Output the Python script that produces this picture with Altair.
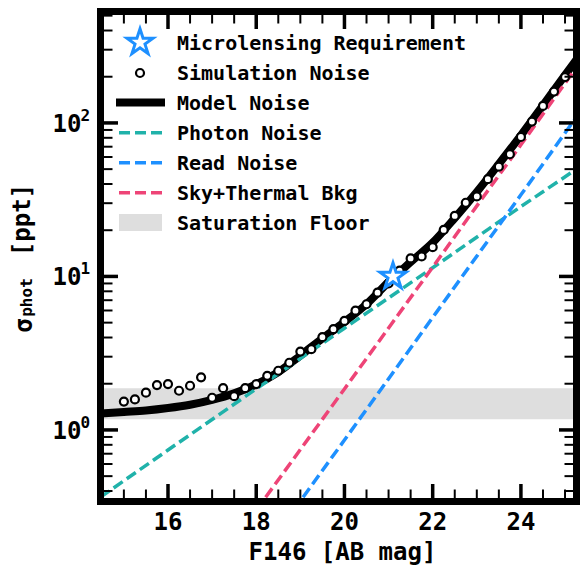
import altair as alt
import pandas as pd

# ---------------- data ----------------
sim_mag = [15.0, 15.25, 15.5, 15.75, 16.0, 16.25, 16.5, 16.75, 17.0, 17.25, 17.5,
           17.75, 18.0, 18.25, 18.5, 18.75, 19.0, 19.25, 19.5, 19.75, 20.0, 20.25,
           20.5, 20.75, 21.0, 21.25, 21.5, 21.75, 22.0, 22.25, 22.5, 22.75, 23.0,
           23.25, 23.5, 23.75, 24.0, 24.25, 24.5, 24.75, 25.0]
sim_sigma = [1.53, 1.58, 1.75, 1.96, 1.99, 1.80, 1.94, 2.20, 1.62, 1.87, 1.66,
             1.87, 1.99, 2.25, 2.43, 2.74, 3.24, 3.36, 4.02, 4.53, 5.13, 5.98,
             6.59, 7.84, 9.0, 10.9, 13.1, 13.5, 15.5, 20.1, 24.8, 30.2, 33.2,
             43.0, 51.9, 62.5, 81.0, 102.0, 129.0, 160.0, 199.0]

model_mag = [14.47, 15.0, 15.5, 16.0, 16.5, 17.0, 17.5, 18.0, 18.5, 19.0, 19.5,
             20.0, 20.5, 21.0, 21.5, 22.0, 22.5, 23.0, 23.5, 24.0, 24.5, 25.0, 25.43]
model_sigma = [1.28, 1.31, 1.34, 1.39, 1.46, 1.57, 1.73, 1.98, 2.38, 3.05, 3.95,
               5.05, 6.6, 9.2, 12.4, 16.6, 24.0, 35.5, 54.0, 83.0, 130.0, 205.0, 300.0]

photon_mag = [14.47, 16.0, 18.0, 20.0, 22.0, 24.0, 25.43]
photon_sigma = [0.365, 0.74, 1.85, 4.6, 11.4, 28.5, 54.0]

read_mag = [18.85, 20.0, 22.0, 24.0, 25.43]
read_sigma = [0.30, 0.86, 5.4, 34.0, 128.0]

sky_mag = [18.0, 20.0, 22.0, 24.0, 25.43]
sky_sigma = [0.30, 1.85, 11.5, 72.0, 270.0]

star_mag = [21.1]
star_sigma = [10.0]

floor_low = [1.175]
floor_high = [1.87]

x_major = [16, 18, 20, 22, 24]
x_minor = [14.5, 15, 15.5, 16.5, 17, 17.5, 18.5, 19, 19.5, 20.5, 21, 21.5,
           22.5, 23, 23.5, 24.5, 25]
y_major = [1, 10, 100]
y_major_sup = ["0", "1", "2"]
y_minor = [0.4, 0.5, 0.6, 0.7, 0.8, 0.9, 2, 3, 4, 5, 6, 7, 8, 9,
           20, 30, 40, 50, 60, 70, 80, 90, 200, 300, 400, 500]

legend_labels = ["Microlensing Requirement", "Simulation Noise", "Model Noise",
                 "Photon Noise", "Read Noise", "Sky+Thermal Bkg", "Saturation Floor"]
x_title = "F146 [AB mag]"
y_title_parts = ["σ", "phot", "[ppt]"]

# ---------------- styling ----------------
W, H = 476, 490
FONT = "DejaVu Sans Mono"
TEAL = "#20B2AA"
BLUE = "#1E90FF"
PINK = "#EE4477"
GREY = "#DEDEDE"
DASH = [11, 5]
STAR = ("M0,-1 L0.2245,-0.309 L0.9511,-0.309 L0.3633,0.118 L0.5878,0.809 "
        "L0,0.382 L-0.5878,0.809 L-0.3633,0.118 L-0.9511,-0.309 L-0.2245,-0.309 Z")

xs = alt.Scale(type="linear", domain=[14.47, 25.26], nice=False, zero=False)
ys = alt.Scale(type="log", domain=[0.3418, 532], nice=False)

one = pd.DataFrame({"k": [0]})


def X(f="m"):
    return alt.X(f + ":Q", scale=xs, axis=None)


def Y(f="s"):
    return alt.Y(f + ":Q", scale=ys, axis=None)


def df(m, s):
    return pd.DataFrame({"m": m, "s": s})


layers = []

# saturation floor band
layers.append(alt.Chart(pd.DataFrame({"lo": floor_low, "hi": floor_high}))
              .mark_rect(color=GREY, opacity=1)
              .encode(x=alt.value(0), x2=alt.value(W), y=Y("lo"), y2="hi:Q"))

# model noise
layers.append(alt.Chart(df(model_mag, model_sigma))
              .mark_line(color="black", strokeWidth=8, clip=True, interpolate="monotone")
              .encode(x=X(), y=Y()))

# dashed components
for m, s, c in [(photon_mag, photon_sigma, TEAL), (read_mag, read_sigma, BLUE),
                (sky_mag, sky_sigma, PINK)]:
    layers.append(alt.Chart(df(m, s))
                  .mark_line(color=c, strokeWidth=3.5, strokeDash=DASH, clip=True)
                  .encode(x=X(), y=Y()))

# simulation points
layers.append(alt.Chart(df(sim_mag, sim_sigma))
              .mark_point(shape="circle", size=64, filled=True, fill="white",
                          stroke="black", strokeWidth=2.2, opacity=1)
              .encode(x=X(), y=Y()))

# microlensing requirement star
layers.append(alt.Chart(df(star_mag, star_sigma))
              .mark_point(shape=STAR, size=750, filled=True, fill="white",
                          stroke=BLUE, strokeWidth=3, opacity=1)
              .encode(x=X(), y=Y()))

# ticks (inward, all four sides)
MAJ, MIN = 17.5, 12
for vals, L, w in [(x_major, MAJ, 3.5), (x_minor, MIN, 2)]:
    d = pd.DataFrame({"m": vals})
    layers.append(alt.Chart(d).mark_rule(color="black", strokeWidth=w)
                  .encode(x=X(), y=alt.value(H), y2=alt.value(H - L)))
    layers.append(alt.Chart(d).mark_rule(color="black", strokeWidth=w)
                  .encode(x=X(), y=alt.value(0), y2=alt.value(L)))
for vals, L, w in [(y_major, MAJ, 3.5), (y_minor, MIN, 2)]:
    d = pd.DataFrame({"s": vals})
    layers.append(alt.Chart(d).mark_rule(color="black", strokeWidth=w)
                  .encode(y=Y(), x=alt.value(0), x2=alt.value(L)))
    layers.append(alt.Chart(d).mark_rule(color="black", strokeWidth=w)
                  .encode(y=Y(), x=alt.value(W), x2=alt.value(W - L)))

# frame
layers.append(alt.Chart(one).mark_rect(fillOpacity=0, stroke="black", strokeWidth=7)
              .encode(x=alt.value(0), x2=alt.value(W), y=alt.value(0), y2=alt.value(H)))

# x tick labels
layers.append(alt.Chart(pd.DataFrame({"m": x_major, "t": [str(v) for v in x_major]}))
              .mark_text(font=FONT, fontWeight="bold", fontSize=24, align="center",
                         baseline="alphabetic", color="black")
              .encode(x=X(), y=alt.value(H + 28.8), text="t:N"))

# y tick labels: "10" with superscript exponent
ylab = pd.DataFrame({"s": y_major, "sup": y_major_sup})
layers.append(alt.Chart(ylab)
              .mark_text(text="10", font=FONT, fontWeight="bold", fontSize=24,
                         align="right", baseline="alphabetic", dy=9, color="black")
              .encode(y=Y(), x=alt.value(-19)))
layers.append(alt.Chart(ylab)
              .mark_text(font=FONT, fontWeight="bold", fontSize=16,
                         align="left", baseline="alphabetic", dy=-2, color="black")
              .encode(y=Y(), x=alt.value(-20), text="sup:N"))


def txt(s, x, y, size, **kw):
    return (alt.Chart(one)
            .mark_text(text=s, font=FONT, fontWeight="bold", fontSize=size,
                       color="black", **kw)
            .encode(x=alt.value(x), y=alt.value(y)))


# axis titles
layers.append(txt(x_title, 242, 548.5, 24, align="center", baseline="alphabetic"))
layers.append(txt(y_title_parts[0], -76, 314, 24, align="center", baseline="middle", angle=270))
layers.append(txt(y_title_parts[1], -73.5, 286, 16, align="center", baseline="middle", angle=270))
layers.append(txt(y_title_parts[2], -78, 208.5, 24, align="center", baseline="middle", angle=270))

# legend
LX = 76.5
rows = [38.5, 68.5, 98.5, 128.5, 158.5, 188.5, 218.5]
for lab, yy in zip(legend_labels, rows):
    layers.append(txt(lab, LX, yy, 20, align="left", baseline="alphabetic"))

layers.append(alt.Chart(one).mark_point(shape=STAR, size=750, filled=True, fill="white",
                                        stroke=BLUE, strokeWidth=3, opacity=1)
              .encode(x=alt.value(39.5), y=alt.value(31)))
layers.append(alt.Chart(one).mark_point(shape="circle", size=64, filled=True, fill="white",
                                        stroke="black", strokeWidth=2.2, opacity=1)
              .encode(x=alt.value(39.5), y=alt.value(61.5)))
layers.append(alt.Chart(one).mark_rule(color="black", strokeWidth=8)
              .encode(x=alt.value(15.5), x2=alt.value(64.5), y=alt.value(91)))
for c, yy in [(TEAL, 121.2), (BLUE, 151.2), (PINK, 181.2)]:
    layers.append(alt.Chart(one).mark_rule(color=c, strokeWidth=3.5, strokeDash=DASH)
                  .encode(x=alt.value(18.5), x2=alt.value(61.5), y=alt.value(yy)))
layers.append(alt.Chart(one).mark_rect(color=GREY, opacity=1)
              .encode(x=alt.value(18.5), x2=alt.value(61.5),
                      y=alt.value(202.5), y2=alt.value(219.5)))

chart = (alt.layer(*layers)
         .properties(width=W, height=H,
                     autosize=alt.AutoSizeParams(type="none"),
                     padding={"left": 92.5, "top": 3.5, "right": 3.5, "bottom": 64.5},
                     background="white")
         .configure_view(stroke=None))

chart.save("out.html", embed_options={"renderer": "svg", "actions": False})
